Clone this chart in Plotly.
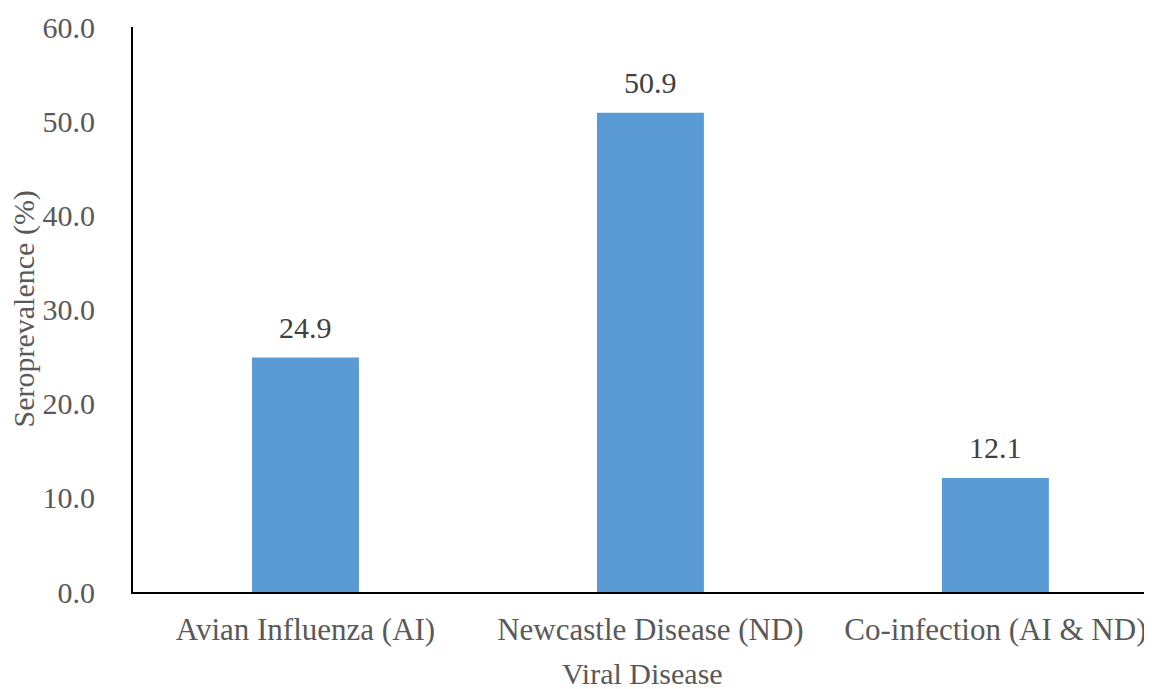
import plotly.graph_objects as go

categories = ["Avian Influenza (AI)", "Newcastle Disease (ND)", "Co-infection (AI & ND)"]
values = [24.9, 50.9, 12.1]
y_ticks = [0, 10, 20, 30, 40, 50, 60]
y_tick_labels = ["0.0", "10.0", "20.0", "30.0", "40.0", "50.0", "60.0"]
x_title = "Viral Disease"
y_title = "Seroprevalence (%)"

FONT = "Times New Roman, Liberation Serif, serif"

fig = go.Figure()
fig.add_trace(go.Bar(
    x=categories, y=values,
    marker=dict(color="#5B9BD5", line=dict(width=0)),
    width=0.31,
    hoverinfo="x+y",
))

for c, v in zip(categories, values):
    fig.add_annotation(x=c, y=v, text=f"{v:.1f}", showarrow=False,
                       yanchor="bottom", yshift=12,
                       font=dict(family=FONT, size=30, color="#404040"))

# axis titles placed relative to the plot area
fig.add_annotation(xref="paper", yref="paper", x=0.5, y=0, text=x_title,
                   showarrow=False, xanchor="center", yanchor="middle",
                   yshift=-81, font=dict(family=FONT, size=30, color="#595959"))
fig.add_annotation(xref="paper", yref="paper", x=0, y=0.5, text=y_title,
                   showarrow=False, textangle=-90, xanchor="center",
                   yanchor="middle", xshift=-110,
                   font=dict(family=FONT, size=30, color="#595959"))

# page body adds an 8px margin at top/left, so the figure is 8px smaller
fig.update_layout(
    width=1144, height=681,
    margin=dict(l=125, r=0, t=19, b=97),
    paper_bgcolor="white", plot_bgcolor="white",
    showlegend=False,
    font=dict(family=FONT, size=30, color="#595959"),
    xaxis=dict(
        range=[-0.5, 2.454], automargin=False,
        showline=True, linecolor="black", linewidth=2,
        showgrid=False, ticks="", ticklabelstandoff=9,
        tickfont=dict(family=FONT, size=31, color="#595959"),
    ),
    yaxis=dict(
        range=[0, 60], automargin=False,
        tickvals=y_ticks, ticktext=y_tick_labels,
        showline=True, linecolor="black", linewidth=2,
        showgrid=False, ticks="", ticklabelstandoff=30,
        zeroline=False,
        tickfont=dict(family=FONT, size=30, color="#595959"),
    ),
)

fig.write_html("out.html")
